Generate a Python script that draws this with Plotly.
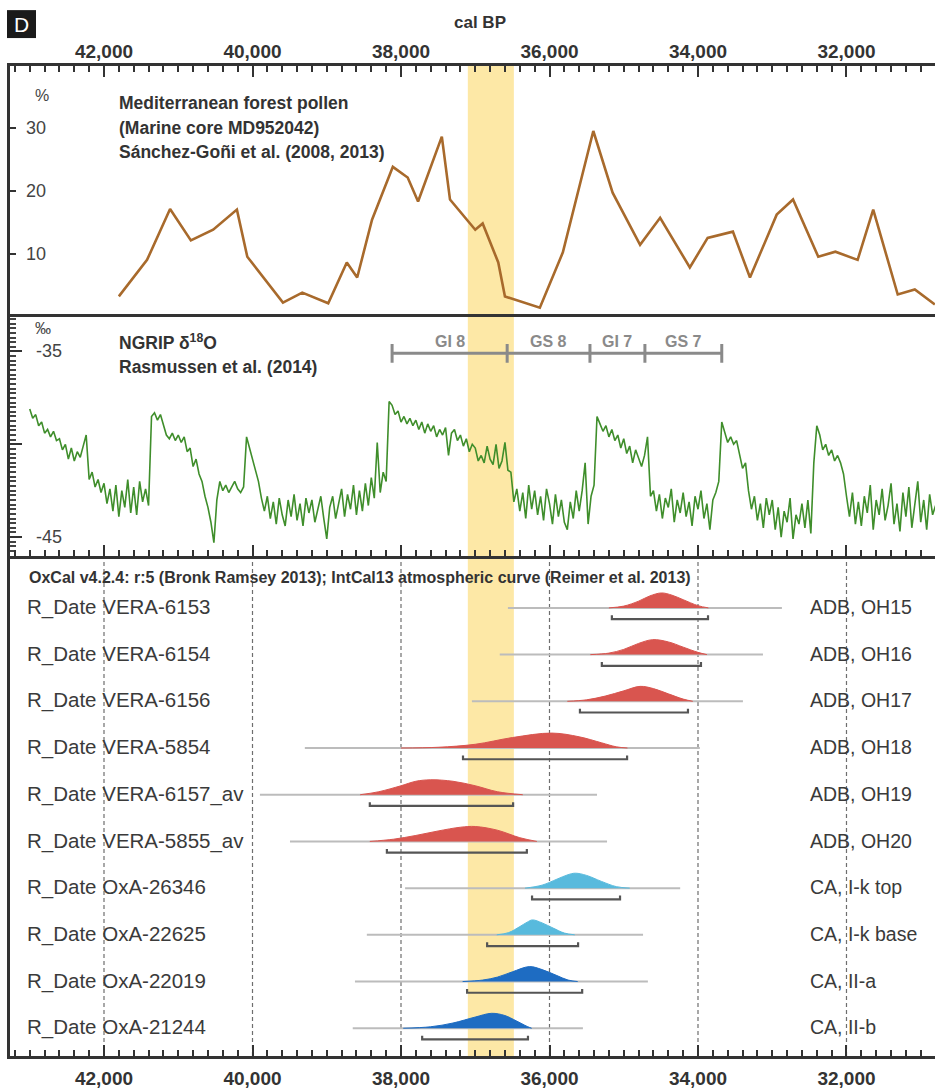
import plotly.graph_objects as go

FONT = "Liberation Sans, Arial, sans-serif"
INK = "#333333"

# ---------------- Mediterranean forest pollen (MD95-2042), % ----------------
pollen_age = [41800, 41420, 41110, 40830, 40530, 40210, 40070, 39590, 39330, 38980,
              38730, 38590, 38390, 38110, 37910, 37770, 37450, 37340, 37000, 36900,
              36690, 36600, 36130, 35820, 35410, 35150, 34780, 34510, 34110, 33870,
              33530, 33300, 32940, 32720, 32380, 32150, 31850, 31640, 31310, 31080,
              30810]
pollen_pct = [3.2, 9.0, 17.1, 12.1, 13.8, 17.0, 9.5, 2.2, 3.8, 2.1,
              8.6, 6.2, 15.4, 23.8, 22.1, 18.3, 28.6, 18.6, 13.8, 14.8,
              8.6, 3.2, 1.4, 10.2, 29.5, 19.7, 11.4, 15.7, 7.8, 12.5,
              13.5, 6.2, 16.2, 18.6, 9.5, 10.3, 9.0, 17.0, 3.5, 4.3,
              1.9]
pollen_ticks = [10, 20, 30]

# ---------------- NGRIP d18O (permil), 40-yr steps 43,000 -> 30,800 cal BP ----------------
ngrip_age = list(range(43000, 30799, -40))
ngrip_d18o = [
    -38.1, -38.6, -38.4, -39.0, -38.8, -39.4, -39.2, -39.6, -39.3, -39.8,
    -39.7, -40.3, -40.0, -40.8, -40.2, -40.9, -40.4, -40.7, -40.1, -39.5,
    -41.9, -41.5, -42.3, -41.9, -42.6, -42.1, -43.2, -42.4, -43.6, -42.2,
    -43.9, -42.5, -43.4, -41.9, -43.7, -42.3, -43.8, -42.0, -43.1, -42.4,
    -43.3, -38.5, -38.3, -38.7, -38.4, -38.9, -39.5, -39.7, -39.4, -39.8,
    -39.5, -39.9, -39.6, -40.4, -40.2, -41.2, -40.8, -41.6, -42.0, -42.8,
    -43.4, -44.2, -45.3, -43.0, -42.0, -42.5, -42.2, -42.6, -42.3, -42.0,
    -42.4, -42.6, -42.3, -39.6, -40.2, -40.8, -41.3, -42.0, -42.9, -43.6,
    -42.8, -44.0, -43.1, -44.3, -42.9, -43.8, -44.4, -43.0, -43.9, -42.7,
    -44.1, -43.2, -44.4, -42.9, -43.7, -43.0, -44.2, -43.4, -42.8, -44.0,
    -45.1, -43.4, -42.8, -44.0, -43.1, -42.4, -43.9, -42.7, -43.5, -42.2,
    -43.8, -42.5, -43.6, -42.1, -43.3, -41.8, -42.9, -39.9, -42.6, -41.5,
    -42.0, -37.7, -37.9, -38.4, -38.2, -38.8, -38.5, -38.9, -38.6, -39.0,
    -38.7, -39.2, -38.8, -39.4, -38.9, -39.3, -39.0, -39.6, -39.2, -39.5,
    -39.1, -40.6, -39.4, -39.2, -39.8, -39.5, -40.1, -39.7, -40.4, -40.0,
    -40.2, -40.9, -40.6, -41.0, -40.1, -40.8, -41.1, -40.0, -41.3, -40.9,
    -39.9, -41.4, -41.5, -43.1, -42.4, -43.6, -42.6, -44.0, -42.2, -43.5,
    -42.5, -43.8, -42.8, -44.1, -42.4, -43.2, -44.3, -42.7, -43.9, -43.0,
    -44.2, -44.6, -43.1, -44.0, -42.5, -43.6, -42.5, -41.0, -44.3, -42.8,
    -42.2, -38.5, -38.9, -39.3, -39.0, -39.6, -39.2, -39.8, -39.5, -40.2,
    -39.7, -40.5, -40.1, -41.0, -40.3, -40.8, -41.2, -40.6, -39.6, -42.8,
    -42.5, -43.6, -42.7, -44.0, -42.9, -43.4, -42.4, -44.2, -43.0, -43.7,
    -42.6, -43.9, -43.1, -44.4, -42.8, -43.5, -42.5, -44.0, -43.2, -44.6,
    -43.0, -42.6, -42.0, -38.8, -39.3, -39.9, -39.6, -40.0, -39.8, -40.6,
    -41.3, -41.0, -42.5, -43.5, -42.8, -44.1, -43.2, -44.5, -42.9, -43.8,
    -43.0, -44.6, -43.4, -45.0, -43.6, -44.2, -42.9, -45.1, -43.8, -44.3,
    -43.2, -44.5, -43.0, -44.8, -41.0, -39.0, -39.5, -40.3, -40.0, -40.6,
    -40.3, -40.9, -40.6, -41.0, -41.6, -42.8, -43.9, -42.6, -44.3, -43.1,
    -44.4, -42.8, -43.7, -42.2, -44.6, -43.0, -43.8, -42.4, -44.1, -43.3,
    -42.1, -44.3, -43.2, -44.7, -42.6, -43.9, -42.3, -44.5, -43.1, -42.0,
    -44.2, -43.0, -44.6, -42.7, -43.8, -43.3,
]
ngrip_ticks = [-35, -45]

# Greenland interstadial / stadial boundaries (cal BP) and names
gs_bounds = [38120, 36570, 35455, 34715, 33680]
gs_names = ["GI 8", "GS 8", "GI 7", "GS 7"]

# Highlighted interval (cal BP)
band_age = [37100, 36480]

# ---------------- Calibrated radiocarbon dates ----------------
date_names = ["R_Date VERA-6153", "R_Date VERA-6154", "R_Date VERA-6156",
              "R_Date VERA-5854", "R_Date VERA-6157_av", "R_Date VERA-5855_av",
              "R_Date OxA-26346", "R_Date OxA-22625", "R_Date OxA-22019",
              "R_Date OxA-21244"]
date_sites = ["ADB, OH15", "ADB, OH16", "ADB, OH17", "ADB, OH18", "ADB, OH19",
              "ADB, OH20", "CA, I-k top", "CA, I-k base", "CA, II-a", "CA, II-b"]
date_colors = ["#d9554f"] * 6 + ["#58badd", "#58badd", "#1e6cc2", "#1e6cc2"]
prior_range = [[36560, 32870], [36670, 33125], [37045, 33395], [39295, 33975],
               [39900, 35360], [39495, 35225], [37945, 34240], [38460, 34740],
               [38620, 34675], [38650, 35550]]
hpd_range = [[35160, 33865], [35295, 33960], [35590, 34135], [37165, 34955],
             [38420, 36490], [38190, 36305], [36235, 35050], [36840, 35615],
             [37110, 35560], [37715, 36290]]
pdf_age = [
    [35200, 35000, 34800, 34650, 34490, 34350, 34200, 34000, 33860],
    [35450, 35200, 35000, 34800, 34610, 34400, 34200, 34000, 33880],
    [35760, 35500, 35250, 35000, 34780, 34600, 34400, 34200, 34070],
    [38000, 37500, 37000, 36500, 35970, 35600, 35300, 35100, 34950],
    [38550, 38300, 38000, 37800, 37600, 37300, 37000, 36700, 36360],
    [38420, 38100, 37800, 37500, 37200, 37000, 36700, 36400, 36170],
    [36330, 36100, 35900, 35750, 35650, 35500, 35300, 35100, 34920],
    [36710, 36550, 36400, 36300, 36230, 36100, 35950, 35800, 35660],
    [37170, 36900, 36700, 36500, 36270, 36100, 35900, 35750, 35620],
    [37970, 37600, 37300, 37000, 36780, 36600, 36450, 36300, 36240],
]
pdf_rel = [
    [0, 0.12, 0.45, 0.80, 1.0, 0.85, 0.55, 0.15, 0],
    [0, 0.10, 0.35, 0.75, 1.0, 0.85, 0.50, 0.15, 0],
    [0, 0.10, 0.35, 0.70, 1.0, 0.85, 0.50, 0.15, 0],
    [0, 0.05, 0.25, 0.70, 1.0, 0.75, 0.35, 0.08, 0],
    [0, 0.20, 0.60, 0.90, 1.0, 0.90, 0.60, 0.20, 0],
    [0, 0.15, 0.40, 0.70, 0.95, 1.0, 0.75, 0.25, 0],
    [0, 0.20, 0.60, 0.90, 1.0, 0.85, 0.45, 0.10, 0],
    [0, 0.15, 0.55, 0.85, 1.0, 0.80, 0.45, 0.12, 0],
    [0, 0.10, 0.30, 0.65, 1.0, 0.80, 0.40, 0.10, 0],
    [0, 0.10, 0.35, 0.75, 1.0, 0.85, 0.50, 0.12, 0],
]

# ---------------- page geometry ----------------
W, H = 935, 1089
L, T, B = 10, 66, 1058          # plot area: left, top, bottom (px)
SEP1, SEP2 = 316, 557           # panel separators (px)
X_RANGE = [43266, 30808]        # cal BP, reversed (older on the left)
Y1_RANGE = [0.16, 39.84]
Y2_RANGE = [-46.02, -33.06]
Y3_RANGE = [9.594, -1.111]


def px_x(p):
    return (p - L) / (W - L)


def px_y(p):
    return (B - p) / (B - T)


PEAK = 0.32      # height of a density peak, in row units
BRK = 0.24       # offset of the range bracket below the baseline
BRK_END = 0.08   # upturn of the bracket ends

fig = go.Figure()

# pollen curve
fig.add_trace(go.Scatter(x=pollen_age, y=pollen_pct, mode="lines",
                         line=dict(color="#a86a2c", width=2.6),
                         xaxis="x", yaxis="y", hoverinfo="skip"))

# NGRIP curve
fig.add_trace(go.Scatter(x=ngrip_age, y=ngrip_d18o, mode="lines",
                         line=dict(color="#3f8e2b", width=1.6),
                         xaxis="x", yaxis="y2", hoverinfo="skip"))

# invisible anchors so the top axis and the middle tick row are drawn
fig.add_trace(go.Scatter(x=pollen_age[:1], y=pollen_pct[:1], mode="markers",
                         marker=dict(opacity=0), xaxis="x2", yaxis="y", hoverinfo="skip"))
fig.add_trace(go.Scatter(x=ngrip_age[:1], y=ngrip_d18o[:1], mode="markers",
                         marker=dict(opacity=0), xaxis="x3", yaxis="y2", hoverinfo="skip"))

# GI / GS bar
bar_y = -35.1
fig.add_trace(go.Scatter(x=[gs_bounds[0], gs_bounds[-1]], y=[bar_y, bar_y], mode="lines",
                         line=dict(color="#8a8a8a", width=3),
                         xaxis="x", yaxis="y2", hoverinfo="skip"))
for b in gs_bounds:
    fig.add_trace(go.Scatter(x=[b, b], y=[bar_y - 0.5, bar_y + 0.5], mode="lines",
                             line=dict(color="#8a8a8a", width=3),
                             xaxis="x", yaxis="y2", hoverinfo="skip"))

# calibrated dates
for i in range(len(date_names)):
    fig.add_trace(go.Scatter(x=prior_range[i], y=[i, i], mode="lines",
                             line=dict(color="#bcbcbc", width=2),
                             xaxis="x", yaxis="y3", hoverinfo="skip"))
    fig.add_trace(go.Scatter(x=pdf_age[i], y=[i - PEAK * r for r in pdf_rel[i]],
                             mode="lines", fill="toself", fillcolor=date_colors[i],
                             line=dict(color=date_colors[i], width=1, shape="spline",
                                       smoothing=1.0),
                             xaxis="x", yaxis="y3", hoverinfo="skip"))
    a, b = hpd_range[i]
    fig.add_trace(go.Scatter(x=[a, a, b, b],
                             y=[i + BRK - BRK_END, i + BRK, i + BRK, i + BRK - BRK_END],
                             mode="lines", line=dict(color="#555555", width=2.2),
                             xaxis="x", yaxis="y3", hoverinfo="skip"))

shapes = [
    # highlighted interval across all panels
    dict(type="rect", xref="x", yref="paper", x0=band_age[0], x1=band_age[1],
         y0=0, y1=1, fillcolor="#fde8a6", line=dict(width=0), layer="below"),
    # panel 1 / panel 2 separator
    dict(type="line", xref="paper", yref="paper", x0=0, x1=1,
         y0=px_y(SEP1), y1=px_y(SEP1), line=dict(color=INK, width=3)),
    # label box
    dict(type="rect", xref="paper", yref="paper", x0=px_x(7), x1=px_x(36),
         y0=px_y(38), y1=px_y(10), fillcolor="#1a1a1a", line=dict(width=0)),
]
for g in [42000, 40000, 38000, 36000, 34000, 32000]:
    shapes.append(dict(type="line", xref="x", yref="y3 domain", x0=g, x1=g, y0=0, y1=1,
                       line=dict(color="#6e6e6e", width=1.2, dash="4px,3px"),
                       layer="below"))

ann = []


def text(x, y, s, size, color=INK, bold=False, xanchor="left", xref="paper", yref="paper"):
    ann.append(dict(x=x, y=y, xref=xref, yref=yref, text=s, showarrow=False,
                    xanchor=xanchor, yanchor="middle",
                    font=dict(family=FONT, size=size, color=color,
                              weight="bold" if bold else "normal")))


text(px_x(21.5), px_y(24), "D", 21, color="white", xanchor="center")
text(px_x(480), px_y(22), "cal BP", 17, bold=True, xanchor="center")

# panel 1 labels
text(px_x(117), px_y(103), "Mediterranean forest pollen", 17.5, bold=True)
text(px_x(117), px_y(128), "(Marine core MD952042)", 17.5, bold=True)
text(px_x(117), px_y(152), "Sánchez-Goñi et al. (2008, 2013)", 17.5, bold=True)
text(px_x(33), px_y(96), "%", 16, color="#444444")
for v in pollen_ticks:
    text(px_x(24), v, str(v), 18, color="#444444", yref="y")

# panel 2 labels
text(px_x(117), px_y(343), "NGRIP δ<sup>18</sup>O", 17.5, bold=True)
text(px_x(117), px_y(368), "Rasmussen et al. (2014)", 17.5, bold=True)
text(px_x(33), px_y(329), "‰", 16, color="#444444")
for v in ngrip_ticks:
    text(px_x(34), v, str(v), 18, color="#444444", yref="y2")

for k, name in enumerate(gs_names):
    mid = (gs_bounds[k] + gs_bounds[k + 1]) / 2
    text(mid, px_y(342), name, 16, color="#8a8a8a", bold=True, xanchor="center", xref="x")

# panel 3 labels
text(px_x(27), px_y(579),
     "OxCal v4.2.4: r:5 (Bronk Ramsey 2013); IntCal13 atmospheric curve (Reimer et al. 2013)",
     16, bold=True)

for i in range(len(date_names)):
    text(px_x(25), i - 0.02, date_names[i], 20.5, color="#3a3a3a", yref="y3")
    text(px_x(808), i - 0.02, date_sites[i], 19.5, color="#3a3a3a", yref="y3")

tick_font = dict(family=FONT, size=19, color=INK, weight="bold")
minor_ticks = dict(dtick=200, tick0=0, ticks="inside", ticklen=6, tickwidth=1.5,
                   tickcolor=INK)

x_common = dict(range=X_RANGE, dtick=2000, tick0=0, ticks="inside", ticklen=11,
                tickwidth=2, tickcolor=INK, minor=minor_ticks, showline=True,
                linewidth=3, linecolor=INK, showgrid=False, zeroline=False,
                tickformat=",d", tickfont=tick_font)

fig.update_layout(
    width=W, height=H,
    margin=dict(l=L, r=0, t=T, b=H - B),
    paper_bgcolor="white", plot_bgcolor="white",
    showlegend=False,
    font=dict(family=FONT, color=INK),
    shapes=shapes,
    annotations=ann,
    xaxis=dict(anchor="y3", side="bottom", ticklabelstandoff=3, **x_common),
    xaxis2=dict(overlaying="x", anchor="y", side="top", ticklabelstandoff=-3, **x_common),
    xaxis3=dict(overlaying="x", anchor="y2", side="bottom", showticklabels=False,
                **x_common),
    yaxis=dict(domain=[px_y(SEP1), 1], range=Y1_RANGE, tickmode="linear", tick0=0,
               dtick=10, ticks="inside", ticklen=6, tickwidth=2, tickcolor=INK,
               showticklabels=False, showline=True, linewidth=3, linecolor=INK,
               showgrid=False, zeroline=False),
    yaxis2=dict(domain=[px_y(SEP2), px_y(SEP1)], range=Y2_RANGE,
                tickmode="linear", tick0=0, dtick=5, showticklabels=False,
                ticks="inside", ticklen=12, tickwidth=2, tickcolor=INK,
                minor=dict(tick0=0, dtick=0.25, ticks="inside",
                           ticklen=6, tickwidth=1.5, tickcolor="#444444"),
                showline=True, linewidth=3, linecolor=INK, showgrid=False,
                zeroline=False),
    yaxis3=dict(domain=[0, px_y(SEP2)], range=Y3_RANGE, showticklabels=False,
                ticks="", showline=True, linewidth=3, linecolor=INK, showgrid=False,
                zeroline=False),
)

fig.write_html("out.html")
